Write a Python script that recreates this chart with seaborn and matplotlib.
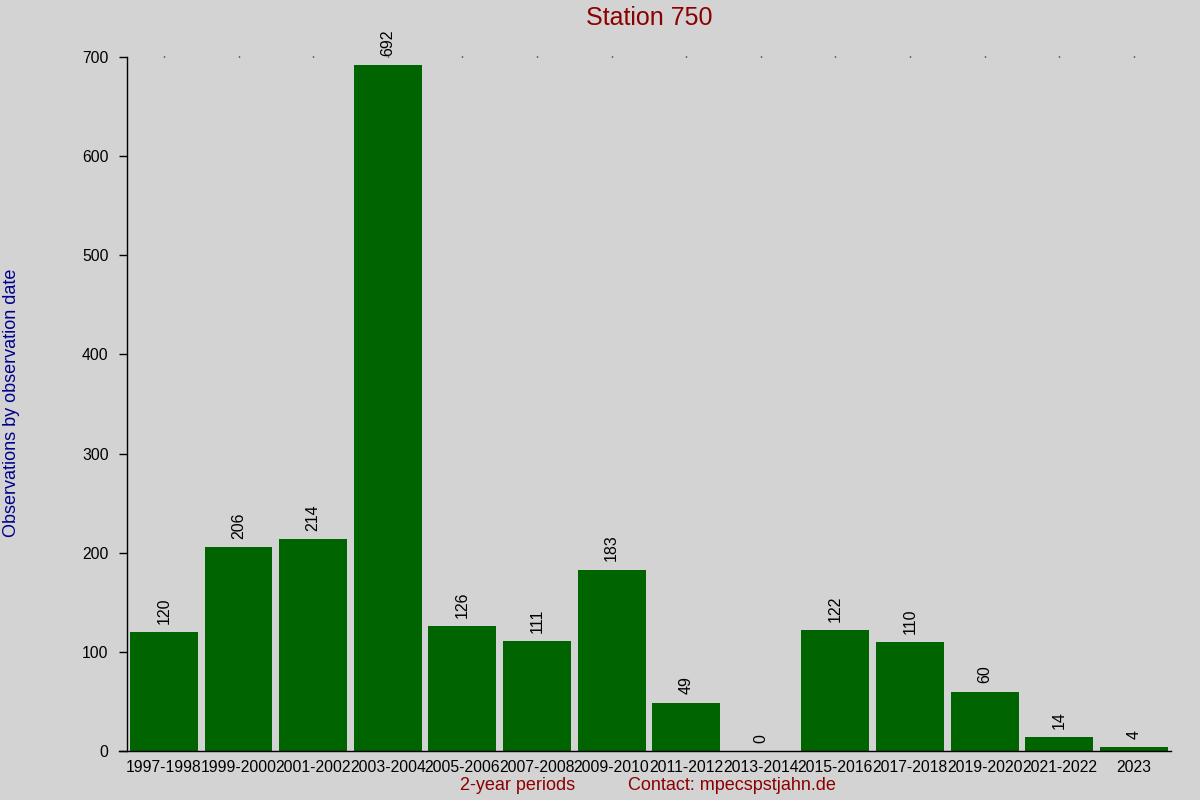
import matplotlib
matplotlib.use("Agg")
import matplotlib.pyplot as plt
import seaborn as sns
import pandas as pd

periods = ["1997-1998", "1999-2000", "2001-2002", "2003-2004", "2005-2006",
           "2007-2008", "2009-2010", "2011-2012", "2013-2014", "2015-2016",
           "2017-2018", "2019-2020", "2021-2022", "2023"]
observations = [120, 206, 214, 692, 126, 111, 183, 49, 0, 122, 110, 60, 14, 4]
y_ticks = [0, 100, 200, 300, 400, 500, 600, 700]

bg = "#d3d3d3"
plt.rcParams["font.family"] = ["Liberation Sans", "DejaVu Sans"]

df = pd.DataFrame({"Period": periods, "Observations": observations})

fig = plt.figure(figsize=(12, 8), dpi=100, facecolor=bg)
ax = fig.add_axes([0.1055, 0.061, 0.8705, 0.868])
ax.set_facecolor(bg)

sns.barplot(data=df, x="Period", y="Observations", color="#006400",
            saturation=1, width=0.91, ax=ax)
ax.bar_label(ax.containers[0], padding=6, rotation=90, fontsize=11.5, color="black")

ax.set_xlim(-0.5, len(periods) - 0.5)
ax.set_ylim(0, 700)
ax.set_yticks(y_ticks)

for s in ["top", "right"]:
    ax.spines[s].set_visible(False)
ax.spines["left"].set_linewidth(1)
ax.spines["bottom"].set_linewidth(1)
ax.spines["bottom"].set_bounds(-0.6, len(periods) - 0.5)

ax.tick_params(axis="y", length=6, width=1, pad=7, labelsize=11.3, colors="black")
ax.tick_params(axis="x", bottom=False, top=True, length=1, width=1,
               pad=5, labelsize=11.3)

ax.set_xlabel("")
ax.set_ylabel("")

fig.text(0.541, 0.978, "Station 750", color="#8b0000", fontsize=18,
         ha="center", va="center")
fig.text(0.0095, 0.496, "Observations by observation date", color="#00008b",
         fontsize=13, rotation=90, ha="center", va="center")
fig.text(0.431, 0.018, "2-year periods", color="#8b0000", fontsize=13,
         ha="center", va="center")
fig.text(0.61, 0.018, "Contact: mpecspstjahn.de", color="#8b0000", fontsize=13,
         ha="center", va="center")

fig.savefig("out.png", dpi=100, facecolor=bg)
